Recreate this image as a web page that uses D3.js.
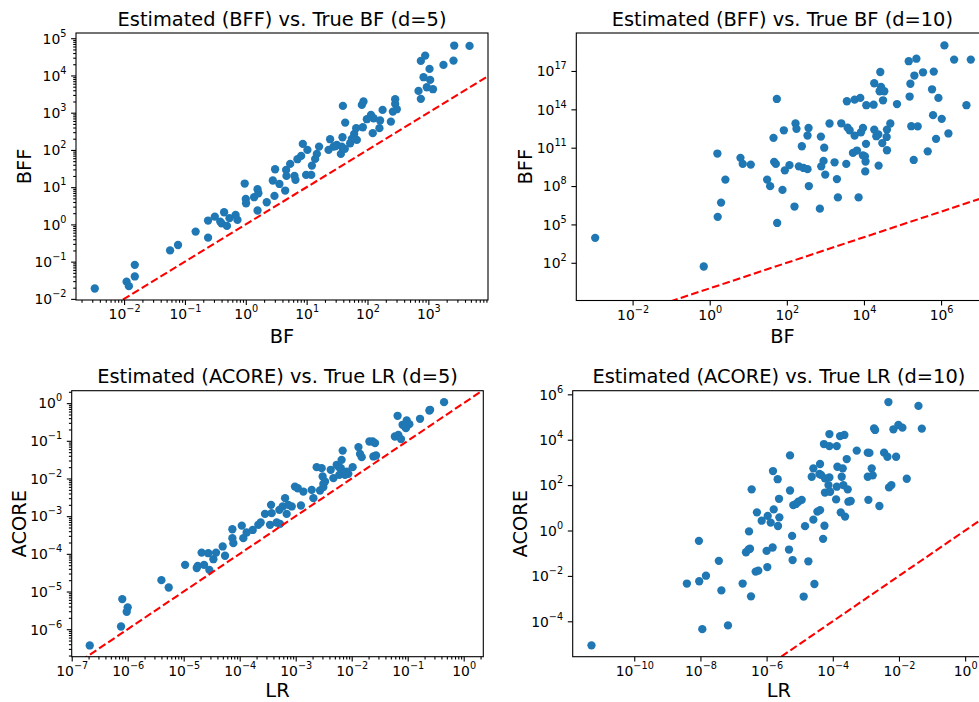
<!DOCTYPE html>
<html>
<head>
<meta charset="utf-8">
<script src="https://cdn.jsdelivr.net/npm/d3@7/dist/d3.min.js"></script>
<style>
  body { margin: 0; background: #fff; }
  svg { display: block; }
  text { font-family: "DejaVu Sans", sans-serif; fill: #000; }
</style>
</head>
<body>
<svg id="chart" width="979" height="702"></svg>
<script>
// ---- Bayes factor, d = 5: true BF vs. BFF estimate ----
const bf5True = [3.3e-3,1.1e-2,1.2e-2,1.5e-2,1.5e-2,5.7e-2,7.7e-2,0.15,0.24,0.24,
  0.31,0.38,0.44,0.40,0.49,0.54,0.68,0.73,0.96,1.0,
  1.01,1.37,1.56,1.61,1.56,2.21,2.78,2.96,3.03,3.57,
  4.44,4.60,5.36,4.66,6.31,6.55,7.06,8.13,8.65,9.8,
  10.3,11.9,12.2,13.8,16.0,14.7,24.3,22.9,27.6,31.3,
  36.5,37.8,38.8,39.4,43.0,51.9,60.4,65.2,66.8,80.7,
  85.9,83.8,97.5,114,122,126,157,161,177,242,
  261,285,285,303,689,753,753,834,887,944,
  1045,1070,1190,1770,2590,2660,4750,42.4,55.2,29.4];
const bf5Est = [1.9e-2,2.9e-2,2.2e-2,8.2e-2,4.0e-2,0.20,0.28,0.64,0.44,1.27,
  1.62,1.19,2.12,1.07,0.91,1.47,1.80,1.32,12.5,4.84,
  3.70,5.37,8.81,6.87,2.36,3.94,15.1,5.83,30.3,12.2,
  8.11,29.1,42.2,20.1,20.1,15.7,56.4,69.2,145,21.3,
  100,21.3,38.0,57.4,123,78.2,194,100,123,136,
  78.2,123,219,1520,543,151,269,384,186,1620,
  2000,407,668,871,282,708,384,617,1190,575,
  1070,2300,1720,1240,3850,24600,2350,8970,34200,4820,
  15000,7590,4270,19200,25100,63500,62200,107,198,126];

// ---- Bayes factor, d = 10 ----
const bf10True = [1.07e-3,0.70,1.58,1.61,1.97,2.55,6.27,7.19,11.6,30.8,
  36.9,45.1,46.9,51.8,55.0,56.1,77.1,83.6,88.7,117,
  158,168,178,205,245,271,344,344,366,372,
  719,764,780,895,933,991,1280,1730,1990,2110,
  2580,3480,3610,3770,4250,5180,5730,5730,6580,7260,
  8040,8360,9420,9420,1.06e4,1.10e4,1.13e4,1.15e4,1.08e4,1.78e4,
  1.85e4,1.85e4,2.09e4,2.40e4,2.36e4,2.55e4,2.65e4,2.77e4,3.12e4,2.99e4,
  3.37e4,3.88e4,3.95e4,3.95e4,4.83e4,7.19e4,1.45e5,1.60e5,1.53e5,1.69e5,
  2.03e5,2.29e5,1.95e5,2.48e5,3.40e5,4.51e5,5.83e5,6.19e5,6.46e5,7.41e5,
  8.53e5,1.04e6,1.22e6,1.55e6,2.18e6,4.55e6,5.90e6];
const bf10Est = [8.9e3,51,3.5e10,3.9e5,5.1e6,3.2e8,1.6e10,5.4e9,4.8e9,3.2e8,
  9.8e7,5.9e11,7.8e9,5.4e9,6.5e14,1.3e5,5.0e7,2.3e12,1.7e9,4.3e9,
  2.5e6,7.8e12,3.0e12,3.5e9,1.3e11,2.6e9,2.1e9,8.9e11,3.5e12,1.0e8,
  1.7e6,7.4e11,3.5e9,9.3e9,1.0e11,7.9e8,7.8e12,7.2e9,3.5e8,1.3e7,
  8.1e12,5.4e9,4.3e14,3.7e12,2.3e12,3.9e10,5.8e14,8.9e11,6.0e10,1.3e7,
  7.8e14,1.6e12,3.5e12,2.5e10,2.1e10,8.3e9,2.0e11,2.1e14,1.4e9,2.3e14,
  1.1e16,2.6e12,7.9e11,4.0e9,1.1e12,2.6e15,8.3e16,5.6e15,5.1e14,2.3e11,
  2.6e15,6.9e11,6.3e10,2.6e12,7.8e12,2.6e14,5.8e17,1.0e16,1.0e15,4.8e12,
  4.4e16,9.1e17,1.1e10,4.6e12,7.9e16,5.2e10,3.7e15,3.5e13,8.9e16,4.9e11,
  7.8e14,1.8e13,1.0e19,1.3e12,7.8e17,2.1e14,7.8e17];

// ---- Likelihood ratio, d = 5: true LR vs. ACORE estimate ----
const lr5True = [2.1e-7,7.6e-7,8.0e-7,1.0e-6,9.6e-7,4.0e-6,5.4e-6,1.06e-5,1.71e-5,1.78e-5,
  2.09e-5,2.31e-5,2.87e-5,2.75e-5,3.39e-5,3.78e-5,4.97e-5,5.47e-5,7.4e-5,7.4e-5,
  7.7e-5,1.09e-4,1.16e-4,1.33e-4,1.71e-4,2.15e-4,2.37e-4,2.83e-4,3.48e-4,3.63e-4,
  3.72e-4,4.58e-4,5.25e-4,5.1e-4,5.86e-4,6.46e-4,6.9e-4,8.5e-4,9.7e-4,1.09e-3,
  1.24e-3,1.37e-3,1.93e-3,2.07e-3,2.37e-3,2.72e-3,2.91e-3,3.03e-3,3.12e-3,3.34e-3,
  4.22e-3,4.71e-3,5.4e-3,6.0e-3,6.4e-3,6.9e-3,6.6e-3,8.7e-3,1.04e-2,1.32e-2,
  1.41e-2,1.51e-2,2.07e-2,2.37e-2,2.61e-2,2.44e-2,2.72e-2,5.9e-2,6.8e-2,6.6e-2,
  7.6e-2,8.1e-2,8.95e-2,9.6e-2,0.107,0.166,0.244,0.446,8.1e-3,7.6e-3,
  9.3e-2,0.251,3.12e-3,7.4e-4,5.9e-3];
const lr5Est = [3.7e-7,1.18e-6,6.3e-6,3.8e-6,2.9e-6,2.0e-5,1.28e-5,5.1e-5,4.2e-5,4.8e-5,
  1.08e-4,5.1e-5,3.76e-5,1.04e-4,7.2e-5,1.08e-4,1.57e-4,8.9e-5,2.61e-4,4.5e-4,
  1.92e-4,5.6e-4,2.61e-4,3.68e-4,4.3e-4,5.9e-4,6.8e-4,1.15e-3,5.9e-4,2.0e-3,
  1.20e-3,6.8e-4,6.25e-4,1.47e-3,1.81e-3,3.0e-3,1.15e-3,1.81e-3,6.1e-3,5.5e-3,
  1.92e-3,4.5e-3,5.0e-3,3.0e-3,2.0e-2,4.8e-3,1.88e-2,1.13e-2,5.9e-3,8.3e-3,
  1.70e-2,1.02e-2,2.31e-2,1.25e-2,1.88e-2,5.5e-2,3.13e-2,1.33e-2,2.0e-2,6.8e-2,
  4.5e-2,3.68e-2,9.6e-2,9.6e-2,8.7e-2,3.84e-2,4.08e-2,0.130,0.144,0.461,
  0.111,0.266,0.240,0.347,0.277,0.384,0.638,1.06,1.53e-2,1.25e-2,
  0.217,0.665,7.2e-3,2.0e-3,2.0e-2];

// ---- Likelihood ratio, d = 10 ----
const lr10True = [5.1e-12,3.9e-9,9.0e-9,9.2e-9,1.14e-8,1.47e-8,3.6e-8,4.3e-8,6.8e-8,1.89e-7,
  2.38e-7,2.87e-7,3.15e-7,2.94e-7,3.37e-7,3.53e-7,4.67e-7,5.6e-7,5.1e-7,7.1e-7,
  1.0e-6,1.05e-6,1.08e-6,1.33e-6,1.52e-6,1.56e-6,1.64e-6,2.16e-6,2.21e-6,2.37e-6,
  2.43e-6,4.75e-6,5.1e-6,5.1e-6,5.9e-6,6.1e-6,6.4e-6,7.7e-6,9.1e-6,1.15e-5,
  1.32e-5,1.45e-5,1.83e-5,2.59e-5,2.31e-5,2.59e-5,2.78e-5,3.42e-5,4.12e-5,4.12e-5,
  4.42e-5,5.1e-5,5.4e-5,5.6e-5,5.8e-5,5.8e-5,7.9e-5,7.9e-5,7.9e-5,7.4e-5,
  8.3e-5,1.26e-4,1.32e-4,1.32e-4,1.38e-4,1.66e-4,1.74e-4,1.86e-4,2.0e-4,2.24e-4,
  2.35e-4,2.09e-4,2.64e-4,2.83e-4,2.96e-4,3.48e-4,5.3e-4,1.14e-3,1.14e-3,1.28e-3,
  1.19e-3,1.50e-3,1.61e-3,1.77e-3,1.90e-3,2.56e-3,3.55e-3,4.48e-3,4.8e-3,5.0e-3,
  5.9e-3,6.8e-3,8.2e-3,9.6e-3,1.27e-2,1.72e-2,3.88e-2,4.9e-2,3.94e-5];
const lr10Est = [8.7e-6,4.6e-3,0.35,5.8e-3,4.5e-5,1.02e-2,4.6e-2,2.3e-3,6.6e-5,4.6e-3,
  0.110,0.148,0.158,0.91,1.26e-3,65,1.55e-2,1.70e-2,6.3,2.7,
  0.126,2.45e-2,4.4,2.24,0.178,417,8.5,182,1.58,25,
  3.8,0.145,58,2040,0.58,5.0e-2,13.2,14.8,18.6,22.4,
  1.23e-3,1.55,4.4e-2,3.0,234,550,4.4e-3,6.8,851,7.9,
  282,0.43,6460,1.62,47,200,219,17800,5250,100,
  51,23.4,85,5250,646,14500,6.3,234,550,16200,
  4.1,100,1410,65,18.6,20,3310,2690,234,2630,
  22.4,550,269,31600,26900,12.0,2690,1780,457000,79,
  100,28800,1780,44700,33900,191,309000,30900,309];

// ---- tick decades (exponents of 10) ----
const bf5XTickExps = [-2, -1, 0, 1, 2, 3];
const bf5YTickExps = [-2, -1, 0, 1, 2, 3, 4, 5];
const bf10XTickExps = [-2, 0, 2, 4, 6];
const bf10YTickExps = [2, 5, 8, 11, 14, 17];
const lr5XTickExps = [-7, -6, -5, -4, -3, -2, -1, 0];
const lr5YTickExps = [-6, -5, -4, -3, -2, -1, 0];
const lr10XTickExps = [-10, -8, -6, -4, -2, 0];
const lr10YTickExps = [-4, -2, 0, 2, 4, 6];

const panels = [
  { title: "Estimated (BFF) vs. True BF (d=5)", xLabel: "BF", yLabel: "BFF",
    xs: bf5True, ys: bf5Est, xExps: bf5XTickExps, yExps: bf5YTickExps, minor: true,
    xDomain: [10 ** -2.79, 10 ** 3.98], yDomain: [10 ** -2.03, 10 ** 5.14],
    box: { left: 76, right: 488, top: 33, bottom: 300 }, yLabelX: 30.5, xLabelGap: 42.7 },
  { title: "Estimated (BFF) vs. True BF (d=10)", xLabel: "BF", yLabel: "BFF",
    xs: bf10True, ys: bf10Est, xExps: bf10XTickExps, yExps: bf10YTickExps, minor: false,
    xDomain: [10 ** -3.46, 10 ** 7.23], yDomain: [10 ** -0.95, 10 ** 19.97],
    box: { left: 576.3, right: 988.5, top: 33, bottom: 300.5 }, yLabelX: 531.5, xLabelGap: 42.5 },
  { title: "Estimated (ACORE) vs. True LR (d=5)", xLabel: "LR", yLabel: "ACORE",
    xs: lr5True, ys: lr5Est, xExps: lr5XTickExps, yExps: lr5YTickExps, minor: true,
    xDomain: [10 ** -7.0, 10 ** 0.35], yDomain: [10 ** -6.73, 10 ** 0.33],
    box: { left: 71.7, right: 483.3, top: 390.7, bottom: 656.7 }, yLabelX: 26, xLabelGap: 40.5 },
  { title: "Estimated (ACORE) vs. True LR (d=10)", xLabel: "LR", yLabel: "ACORE",
    xs: lr10True, ys: lr10Est, xExps: lr10XTickExps, yExps: lr10YTickExps, minor: false,
    xDomain: [10 ** -11.86, 10 ** 0.6], yDomain: [10 ** -5.56, 10 ** 6.16],
    box: { left: 572.7, right: 985, top: 390.7, bottom: 656.7 }, yLabelX: 526.5, xLabelGap: 40.5 }
];

const svg = d3.select("#chart");
const BLUE = "#1f77b4";
const TICK_FONT = 13.9, SUP_FONT = 9.7, TITLE_FONT = 19.4, LABEL_FONT = 19.4;
const MAJOR = 4.9, MINOR = 2.8, LW = 1.1;

// "10" with a raised exponent, as a log axis label
function powerLabel(text, exp) {
  text.append("tspan").text("10");
  text.append("tspan")
    .attr("font-size", SUP_FONT)
    .attr("dy", -7)
    .text(exp < 0 ? "\u2212" + Math.abs(exp) : String(exp));
}

// minor ticks at 2..9 × 10^k inside the domain
function minorValues(domain) {
  const lo = Math.floor(Math.log10(domain[0])), hi = Math.ceil(Math.log10(domain[1]));
  const out = [];
  for (let k = lo; k <= hi; k++)
    for (let j = 2; j <= 9; j++) {
      const v = j * 10 ** k;
      if (v >= domain[0] && v <= domain[1]) out.push(v);
    }
  return out;
}

panels.forEach((p, i) => {
  const b = p.box;
  const x = d3.scaleLog().domain(p.xDomain).range([b.left, b.right]);
  const y = d3.scaleLog().domain(p.yDomain).range([b.bottom, b.top]);
  const g = svg.append("g");

  const clipId = "plot-clip-" + i;
  svg.append("clipPath").attr("id", clipId).append("rect")
    .attr("x", b.left).attr("y", b.top)
    .attr("width", b.right - b.left).attr("height", b.bottom - b.top);

  const plot = g.append("g").attr("clip-path", `url(#${clipId})`);

  // scatter points
  plot.append("g").selectAll("circle")
    .data(d3.zip(p.xs, p.ys))
    .join("circle")
    .attr("cx", d => x(d[0]))
    .attr("cy", d => y(d[1]))
    .attr("r", 4.15)
    .attr("fill", BLUE);

  // identity reference line y = x
  const lo = Math.min(p.xDomain[0], p.yDomain[0]);
  const hi = Math.max(p.xDomain[1], p.yDomain[1]);
  plot.append("path")
    .datum([lo, hi])
    .attr("d", d3.line().x(v => x(v)).y(v => y(v)))
    .attr("fill", "none")
    .attr("stroke", "#ff0000")
    .attr("stroke-width", 2.08)
    .attr("stroke-dasharray", "7.7,3.3");

  // x axis
  const xAxis = g.append("g").attr("transform", `translate(0,${b.bottom})`);
  if (p.minor) {
    xAxis.append("g").call(d3.axisBottom(x).tickValues(minorValues(p.xDomain))
      .tickSize(MINOR).tickFormat(() => ""));
  }
  const xMajor = xAxis.append("g").call(d3.axisBottom(x)
    .tickValues(p.xExps.map(e => 10 ** e)).tickSize(MAJOR).tickFormat(() => ""));
  xAxis.selectAll(".domain").remove();
  xAxis.selectAll(".tick line").attr("stroke", "#000").attr("stroke-width", LW);
  xAxis.selectAll(".tick text").remove();
  xMajor.selectAll(".tick").each(function (d) {
    const t = d3.select(this).append("text")
      .attr("y", 19).attr("text-anchor", "middle")
      .attr("font-size", TICK_FONT).attr("fill", "#000");
    powerLabel(t, Math.round(Math.log10(d)));
  });

  // y axis
  const yAxis = g.append("g").attr("transform", `translate(${b.left},0)`);
  if (p.minor) {
    yAxis.append("g").call(d3.axisLeft(y).tickValues(minorValues(p.yDomain))
      .tickSize(MINOR).tickFormat(() => ""));
  }
  const yMajor = yAxis.append("g").call(d3.axisLeft(y)
    .tickValues(p.yExps.map(e => 10 ** e)).tickSize(MAJOR).tickFormat(() => ""));
  yAxis.selectAll(".domain").remove();
  yAxis.selectAll(".tick line").attr("stroke", "#000").attr("stroke-width", LW);
  yAxis.selectAll(".tick text").remove();
  yMajor.selectAll(".tick").each(function (d) {
    const t = d3.select(this).append("text")
      .attr("x", -9.6).attr("y", 4.8).attr("text-anchor", "end")
      .attr("font-size", TICK_FONT).attr("fill", "#000");
    powerLabel(t, Math.round(Math.log10(d)));
  });

  // frame
  g.append("rect")
    .attr("x", b.left).attr("y", b.top)
    .attr("width", b.right - b.left).attr("height", b.bottom - b.top)
    .attr("fill", "none").attr("stroke", "#000").attr("stroke-width", LW);

  const cx = (b.left + b.right) / 2;
  const cy = (b.top + b.bottom) / 2;

  g.append("text")
    .attr("x", cx).attr("y", b.top - 7.5)
    .attr("text-anchor", "middle").attr("font-size", TITLE_FONT)
    .text(p.title);

  g.append("text")
    .attr("x", cx).attr("y", b.bottom + p.xLabelGap)
    .attr("text-anchor", "middle").attr("font-size", LABEL_FONT)
    .text(p.xLabel);

  g.append("text")
    .attr("transform", `translate(${p.yLabelX},${cy}) rotate(-90)`)
    .attr("text-anchor", "middle").attr("font-size", LABEL_FONT)
    .text(p.yLabel);
});
</script>
</body>
</html>
